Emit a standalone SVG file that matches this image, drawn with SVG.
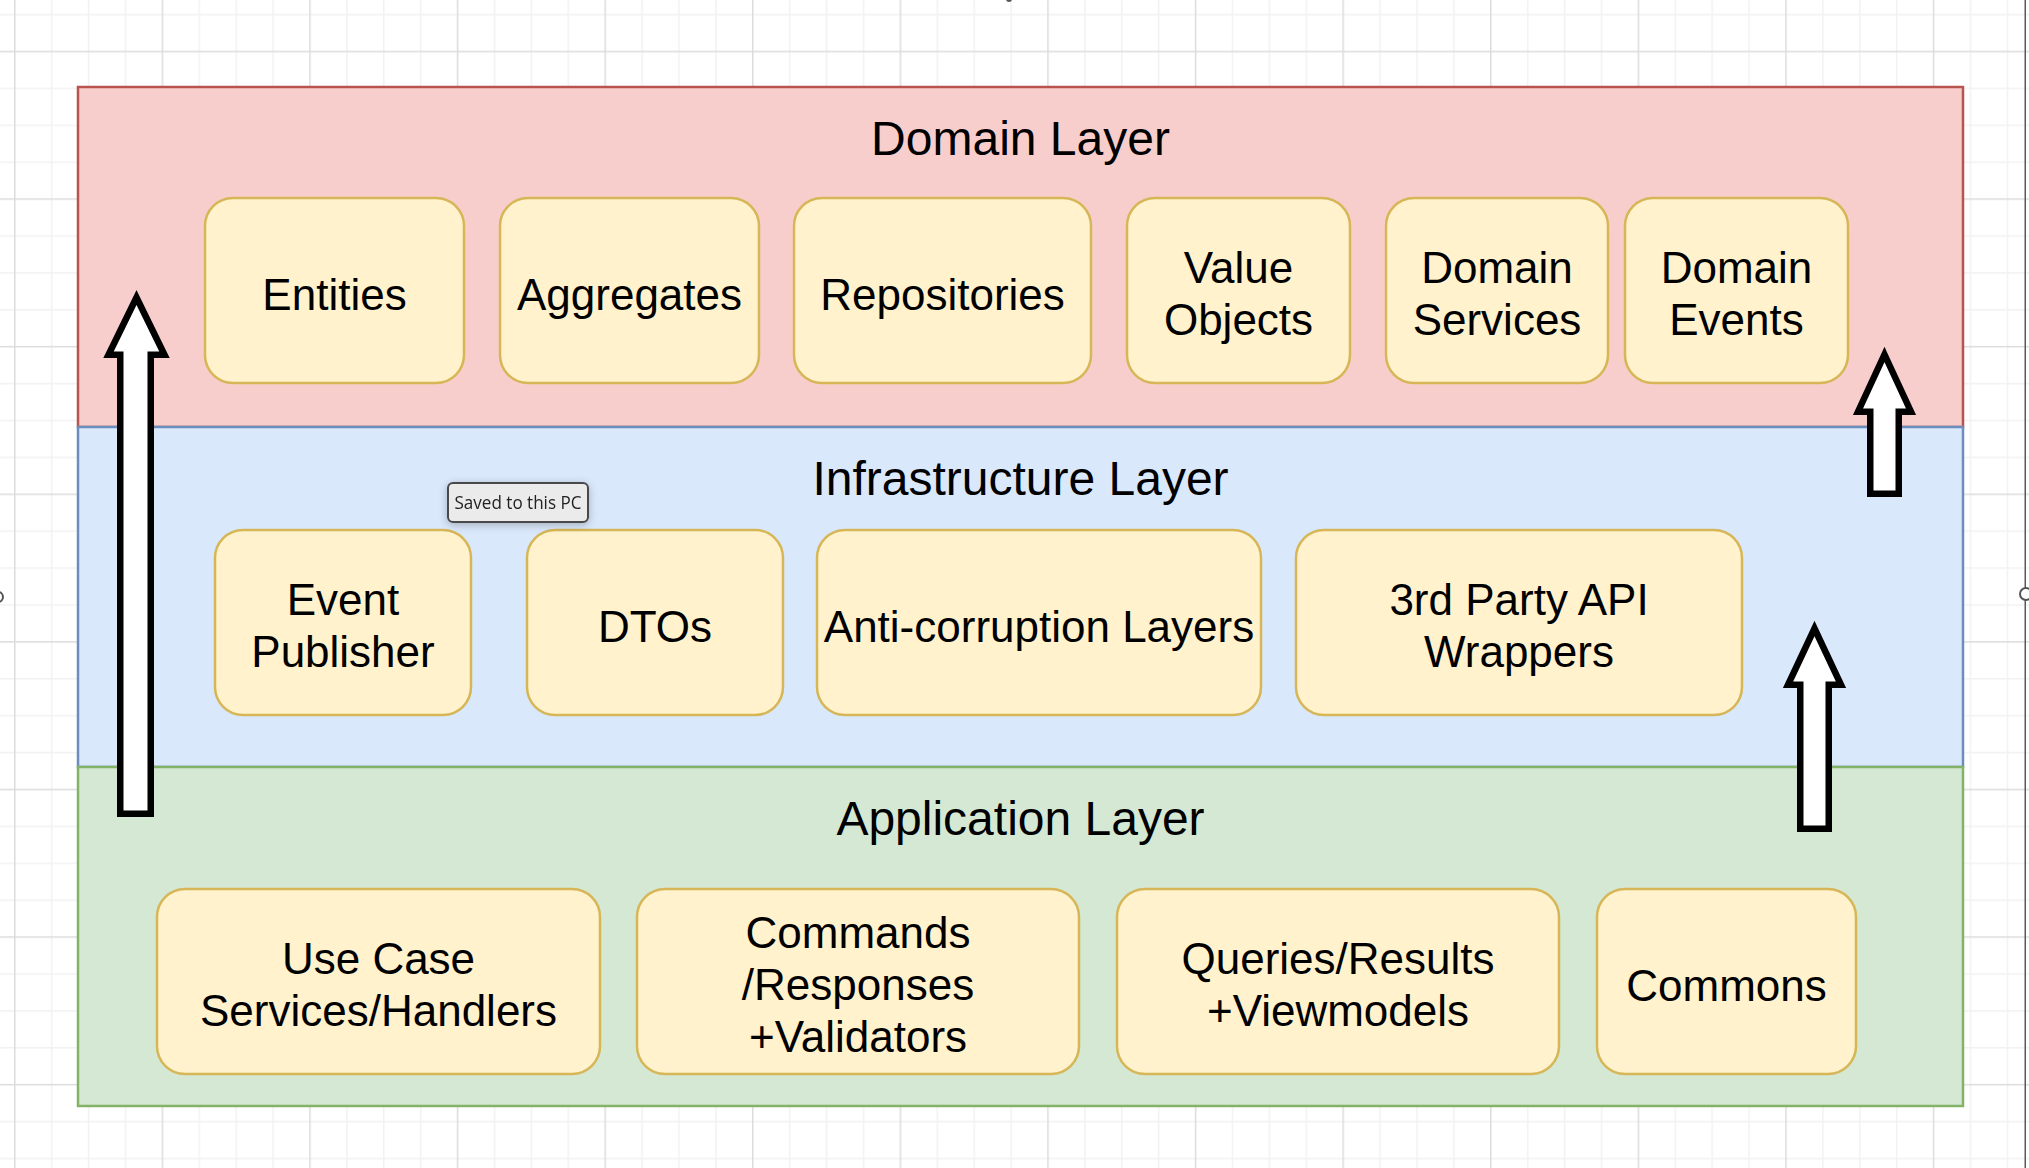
<svg xmlns="http://www.w3.org/2000/svg" width="2029" height="1168" viewBox="0 0 2029 1168">
  <style>
    .layer-title { font-family: "Liberation Sans", Arial, sans-serif; font-size: 48px; fill: #000000; text-anchor: middle; }
    .box { fill: #fff2cc; stroke: #d6b656; stroke-width: 2.5; }
    .box-text { font-family: "Liberation Sans", Arial, sans-serif; font-size: 44px; fill: #000000; text-anchor: middle; }
    .domain { fill: #f8cecc; stroke: #b85450; stroke-width: 2.5; }
    .infra { fill: #dae8fc; stroke: #6c8ebf; stroke-width: 2.5; }
    .app { fill: #d5e8d4; stroke: #82b366; stroke-width: 2.5; }
    .block-arrow { fill: #ffffff; stroke: #000000; stroke-width: 6.5; stroke-linejoin: miter; stroke-miterlimit: 10; }
    .tip-text { font-family: "Open Sans", "Noto Sans", sans-serif; font-size: 18px; fill: #222222; text-anchor: middle; }
    .handle { fill: #ffffff; stroke: #555555; stroke-width: 2; }
  </style>
  <defs>
    <pattern id="grid" patternUnits="userSpaceOnUse" x="14" y="50.7" width="147.6" height="147.6">
      <rect x="36.9" y="0" width="1.5" height="147.6" fill="#f2f2f2"/>
      <rect x="73.8" y="0" width="1.5" height="147.6" fill="#f2f2f2"/>
      <rect x="110.7" y="0" width="1.5" height="147.6" fill="#f2f2f2"/>
      <rect x="0" y="36.9" width="147.6" height="1.5" fill="#f2f2f2"/>
      <rect x="0" y="73.8" width="147.6" height="1.5" fill="#f2f2f2"/>
      <rect x="0" y="110.7" width="147.6" height="1.5" fill="#f2f2f2"/>
      <rect x="0" y="0" width="1.5" height="147.6" fill="#dcdcdc"/>
      <rect x="0" y="0" width="147.6" height="1.5" fill="#dcdcdc"/>
    </pattern>
    <filter id="shadow" x="-20%" y="-40%" width="140%" height="180%">
      <feGaussianBlur in="SourceAlpha" stdDeviation="4"/>
      <feOffset dx="0" dy="2" result="b"/>
      <feComponentTransfer><feFuncA type="linear" slope="0.25"/></feComponentTransfer>
      <feMerge><feMergeNode/><feMergeNode in="SourceGraphic"/></feMerge>
    </filter>
  </defs>

  <rect x="0" y="0" width="2029" height="1168" fill="#ffffff"/>
  <rect x="0" y="0" width="2029" height="1168" fill="url(#grid)"/>

  <!-- Layers -->
  <g id="domain-layer">
    <rect class="domain" x="78" y="87" width="1885" height="340"/>
    <text class="layer-title" x="1020.5" y="155">Domain Layer</text>
  </g>
  <g id="infrastructure-layer">
    <rect class="infra" x="78" y="427" width="1885" height="340"/>
    <text class="layer-title" x="1020.5" y="495">Infrastructure Layer</text>
  </g>
  <g id="application-layer">
    <rect class="app" x="78" y="767" width="1885" height="339"/>
    <text class="layer-title" x="1020.5" y="835">Application Layer</text>
  </g>

  <!-- Domain nodes -->
  <g id="entities">
    <rect class="box" x="205" y="198" width="259" height="185" rx="28" ry="28"/>
    <text class="box-text" x="334.5" y="310">Entities</text>
  </g>
  <g id="aggregates">
    <rect class="box" x="500" y="198" width="259" height="185" rx="28" ry="28"/>
    <text class="box-text" x="629.5" y="310">Aggregates</text>
  </g>
  <g id="repositories">
    <rect class="box" x="794" y="198" width="297" height="185" rx="28" ry="28"/>
    <text class="box-text" x="942.5" y="310">Repositories</text>
  </g>
  <g id="value-objects">
    <rect class="box" x="1127" y="198" width="223" height="185" rx="28" ry="28"/>
    <text class="box-text" x="1238.5" y="283">Value</text>
    <text class="box-text" x="1238.5" y="335">Objects</text>
  </g>
  <g id="domain-services">
    <rect class="box" x="1386" y="198" width="222" height="185" rx="28" ry="28"/>
    <text class="box-text" x="1497" y="283">Domain</text>
    <text class="box-text" x="1497" y="335">Services</text>
  </g>
  <g id="domain-events">
    <rect class="box" x="1625" y="198" width="223" height="185" rx="28" ry="28"/>
    <text class="box-text" x="1736.5" y="283">Domain</text>
    <text class="box-text" x="1736.5" y="335">Events</text>
  </g>

  <!-- Infrastructure nodes -->
  <g id="event-publisher">
    <rect class="box" x="215" y="530" width="256" height="185" rx="28" ry="28"/>
    <text class="box-text" x="343" y="615">Event</text>
    <text class="box-text" x="343" y="667">Publisher</text>
  </g>
  <g id="dtos">
    <rect class="box" x="527" y="530" width="256" height="185" rx="28" ry="28"/>
    <text class="box-text" x="655" y="642">DTOs</text>
  </g>
  <g id="anti-corruption-layers">
    <rect class="box" x="817" y="530" width="444" height="185" rx="28" ry="28"/>
    <text class="box-text" x="1039" y="642">Anti-corruption Layers</text>
  </g>
  <g id="third-party-api-wrappers">
    <rect class="box" x="1296" y="530" width="446" height="185" rx="28" ry="28"/>
    <text class="box-text" x="1519" y="615">3rd Party API</text>
    <text class="box-text" x="1519" y="667">Wrappers</text>
  </g>

  <!-- Application nodes -->
  <g id="use-case-services">
    <rect class="box" x="157" y="889" width="443" height="185" rx="28" ry="28"/>
    <text class="box-text" x="378.5" y="974">Use Case</text>
    <text class="box-text" x="378.5" y="1026">Services/Handlers</text>
  </g>
  <g id="commands-responses-validators">
    <rect class="box" x="637" y="889" width="442" height="185" rx="28" ry="28"/>
    <text class="box-text" x="858" y="948">Commands</text>
    <text class="box-text" x="858" y="1000">/Responses</text>
    <text class="box-text" x="858" y="1052">+Validators</text>
  </g>
  <g id="queries-results-viewmodels">
    <rect class="box" x="1117" y="889" width="442" height="185" rx="28" ry="28"/>
    <text class="box-text" x="1338" y="974">Queries/Results</text>
    <text class="box-text" x="1338" y="1026">+Viewmodels</text>
  </g>
  <g id="commons">
    <rect class="box" x="1597" y="889" width="259" height="185" rx="28" ry="28"/>
    <text class="box-text" x="1726.5" y="1001">Commons</text>
  </g>

  <!-- Connectors (block arrows) -->
  <g id="connectors">
    <polygon class="block-arrow" points="136.5,297.5 164.5,354.75 150.75,354.75 150.75,813.75 120.25,813.75 120.25,354.75 108.5,354.75"/>
    <polygon class="block-arrow" points="1884.5,354.5 1911,411.75 1898.75,411.75 1898.75,493.75 1870.25,493.75 1870.25,411.75 1858,411.75"/>
    <polygon class="block-arrow" points="1814.5,628.5 1841,684.75 1828.75,684.75 1828.75,828.75 1800.25,828.75 1800.25,684.75 1788,684.75"/>
  </g>

  <!-- Tooltip -->
  <g id="tooltip" filter="url(#shadow)">
    <rect x="448" y="483" width="140" height="39" rx="5" ry="5" fill="#ebebeb" stroke="#4a4a4a" stroke-width="2"/>
    <text class="tip-text" x="518" y="509" textLength="127" lengthAdjust="spacingAndGlyphs">Saved to this PC</text>
  </g>

  <!-- Canvas edge marks -->
  <rect x="2024.5" y="0" width="1.5" height="1168" fill="#5a5a5a"/>
  <circle class="handle" cx="2026" cy="594" r="6"/>
  <circle class="handle" cx="-2" cy="597" r="5"/>
  <circle cx="1009" cy="-1" r="3" fill="#555555"/>
</svg>
